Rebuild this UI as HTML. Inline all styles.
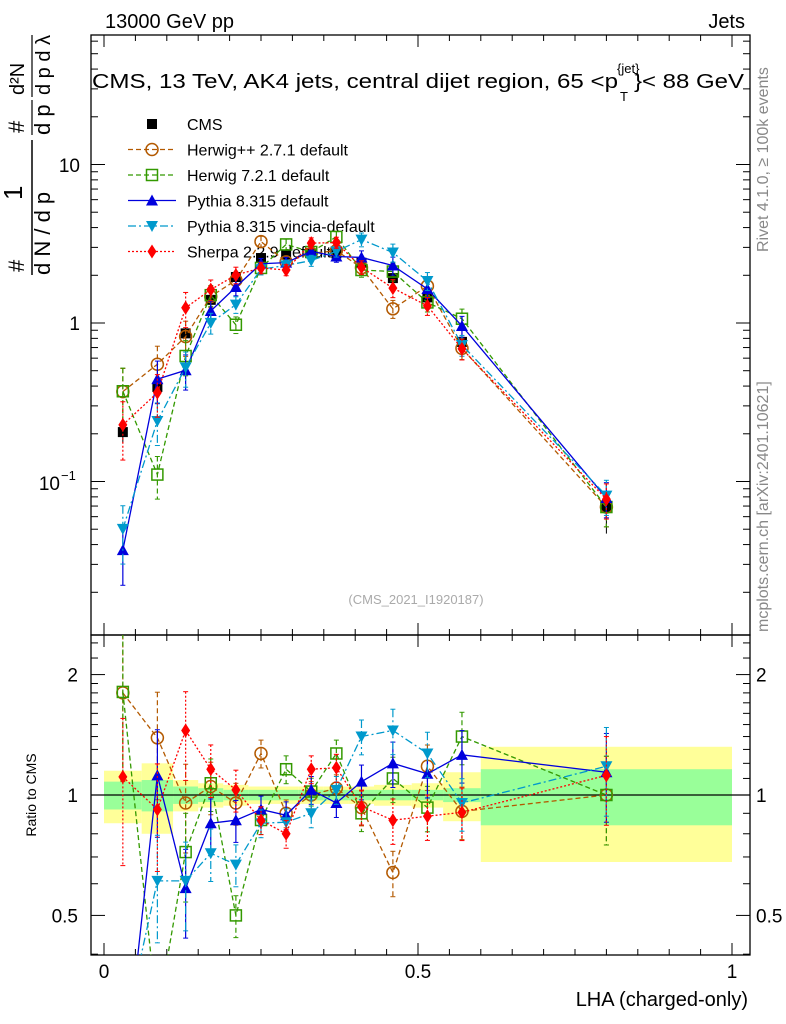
<!DOCTYPE html>
<html><head><meta charset="utf-8">
<style>
html,body{margin:0;padding:0;background:#fff;overflow:hidden;width:786px;height:1024px;}
svg{display:block;font-family:"Liberation Sans",sans-serif;}
</style></head>
<body>
<svg id="chart" width="786" height="1024" viewBox="0 0 786 1024" xmlns="http://www.w3.org/2000/svg">
<text x="105" y="28" font-size="20">13000 GeV pp</text>
<text x="745" y="28" font-size="20" text-anchor="end">Jets</text>
<text x="92" y="88" font-size="20" textLength="526" lengthAdjust="spacingAndGlyphs">CMS, 13 TeV, AK4 jets, central dijet region, 65 &lt;p</text>
<text x="617" y="73" font-size="13">{jet}</text>
<text x="620" y="101" font-size="13">T</text>
<text x="634" y="88" font-size="20" textLength="110" lengthAdjust="spacingAndGlyphs">}&lt; 88 GeV</text>
<g font-size="22">
<text transform="translate(24,272) rotate(-90)">#</text>
<text transform="translate(22,200) rotate(-90)" font-size="26">1</text>
<line x1="32" y1="275" x2="32" y2="140" stroke="#000" stroke-width="1.5"/>
<text transform="translate(50,275) rotate(-90)">d N / d p</text>
<text transform="translate(24,133) rotate(-90)">#</text>
<line x1="32" y1="135" x2="32" y2="100" stroke="#000" stroke-width="1.2"/>
<text transform="translate(50,135) rotate(-90)">d p</text>
<text transform="translate(24,95) rotate(-90)" font-size="20">d²N</text>
<line x1="32" y1="97" x2="32" y2="35" stroke="#000" stroke-width="1.2"/>
<text transform="translate(50,95) rotate(-90)" font-size="20">d p  d λ</text>
</g>
<text transform="translate(768,252) rotate(-90)" font-size="16" fill="#888">Rivet 4.1.0, ≥ 100k events</text>
<text transform="translate(768,632) rotate(-90)" font-size="16" fill="#888">mcplots.cern.ch [arXiv:2401.10621]</text>
<text x="416" y="604" font-size="13" fill="#aaa" text-anchor="middle">(CMS_2021_I1920187)</text>
<text x="36" y="795" font-size="14" text-anchor="middle" transform="rotate(-90,36,795)">Ratio to CMS</text>
<text x="748" y="1006" font-size="20" text-anchor="end">LHA (charged-only)</text>
<g id="bands"></g>
<g id="axes"></g>
<g id="legend"></g>
<defs>
<clipPath id="cm"><rect x="91" y="35" width="659" height="600"/></clipPath>
<clipPath id="cr"><rect x="91" y="635" width="659" height="320"/></clipPath>
</defs>
</svg>
<script>
const edges=[0,0.06,0.11,0.15,0.19,0.23,0.27,0.31,0.35,0.39,0.43,0.49,0.54,0.60,1.0];
const centers=[0.03,0.085,0.13,0.17,0.21,0.25,0.29,0.33,0.37,0.41,0.46,0.515,0.57,0.8];
const cmsVals=[0.205,0.395,0.86,1.4,1.95,2.57,2.7,2.75,2.75,2.4,1.92,1.45,0.76,0.069];
const statErr=[0.08,0.09,0.05,0.04,0.03,0.03,0.03,0.03,0.03,0.03,0.03,0.03,0.04,0.16];
const totErr=[0.15,0.2,0.09,0.07,0.06,0.05,0.05,0.05,0.05,0.05,0.06,0.07,0.14,0.32];
const herwigppRatio=[1.8,1.39,0.955,1.05,0.955,1.27,0.9,1.0,1.04,0.93,0.64,1.18,0.91,1.0];
const herwig7Ratio=[1.81,0.28,0.72,1.07,0.5,0.866,1.16,1.02,1.27,0.9,1.1,0.93,1.4,1.0];
const pythiaRatio=[0.18,1.12,0.585,0.85,0.865,0.92,0.89,1.03,0.955,1.08,1.2,1.13,1.26,1.14];
const vinciaRatio=[0.245,0.61,0.61,0.715,0.67,0.85,0.855,0.9,1.03,1.4,1.45,1.27,0.955,1.18];
const sherpaRatio=[1.11,0.92,1.45,1.16,1.03,0.865,0.8,1.16,1.17,0.935,0.865,0.885,0.905,1.12];
const mcErr=[0.4,0.3,0.25,0.15,0.12,0.08,0.08,0.08,0.08,0.1,0.13,0.13,0.15,0.25];

const NS='http://www.w3.org/2000/svg';
const X0=91,X1=750,YT=35,YM=635,YB=955;
const xs=v=>104+628*v;
const ym=v=>323-158.5*Math.log10(v);
const yr=r=>795-400*Math.log10(r);
function mk(tag,attrs,parent){const e=document.createElementNS(NS,tag);for(const k in attrs)e.setAttribute(k,attrs[k]);parent.appendChild(e);return e;}
const svg=document.getElementById('chart');
const bands=document.getElementById('bands');
const axes=document.getElementById('axes');
const legend=document.getElementById('legend');

for(let i=0;i<centers.length;i++){
  const x=xs(edges[i]),w=xs(edges[i+1])-x;
  const yb=mk('rect',{x:x,y:yr(1+totErr[i]),width:w,height:yr(1-totErr[i])-yr(1+totErr[i]),fill:'#ffff99'},bands);
  
  
  const gb=mk('rect',{x:x,y:yr(1+statErr[i]),width:w,height:yr(1-statErr[i])-yr(1+statErr[i]),fill:'#99ff99'},bands);
  
  
}
const one=mk('line',{x1:X0,x2:X1,y1:yr(1),y2:yr(1),stroke:'#000','stroke-width':1.2},bands);



function marker(g,type,x,y,color){
  if(type==='sq')mk('rect',{x:x-5,y:y-5,width:10,height:10,fill:'#000'},g);
  else if(type==='osq')mk('rect',{x:x-5.5,y:y-5.5,width:11,height:11,fill:'none',stroke:color,'stroke-width':1.5},g);
  else if(type==='oc')mk('circle',{cx:x,cy:y,r:6,fill:'none',stroke:color,'stroke-width':1.5},g);
  else if(type==='tu')mk('path',{d:`M${x} ${y-6}L${x+6} ${y+5}L${x-6} ${y+5}Z`,fill:color},g);
  else if(type==='td')mk('path',{d:`M${x} ${y+6}L${x+6} ${y-5}L${x-6} ${y-5}Z`,fill:color},g);
  else if(type==='di')mk('path',{d:`M${x} ${y-7}L${x+4.5} ${y}L${x} ${y+7}L${x-4.5} ${y}Z`,fill:color},g);
}
const series=[
 {name:'herwigpp',ratio:herwigppRatio,color:'#b35900',dash:'5,3',m:'oc',label:'Herwig++ 2.7.1 default'},
 {name:'herwig7',ratio:herwig7Ratio,color:'#339900',dash:'5,3',m:'osq',label:'Herwig 7.2.1 default'},
 {name:'pythia',ratio:pythiaRatio,color:'#0000dd',dash:'',m:'tu',label:'Pythia 8.315 default'},
 {name:'vincia',ratio:vinciaRatio,color:'#0099cc',dash:'8,3,2,3',m:'td',label:'Pythia 8.315 vincia-default'},
 {name:'sherpa',ratio:sherpaRatio,color:'#ff0000',dash:'2,2',m:'di',label:'Sherpa 2.2.9 default'}
];
const gm=mk('g',{'clip-path':'url(#cm)'},svg);
const gr=mk('g',{'clip-path':'url(#cr)'},svg);
const cg=mk('g',{},gm);


for(let i=0;i<centers.length;i++){
  const x=xs(centers[i]);
  mk('line',{x1:x,x2:x,y1:ym(cmsVals[i]*(1+totErr[i])),y2:ym(cmsVals[i]*(1-totErr[i])),stroke:'#000'},cg);
}
series.forEach(s=>{
  for(const [g,f] of [[gm,(i)=>ym(cmsVals[i]*s.ratio[i])],[gr,(i)=>yr(s.ratio[i])]]){
    const sg=mk('g',{},g);
    
    
    const pts=centers.map((c,i)=>xs(c)+','+f(i)).join(' ');
    mk('polyline',{points:pts,fill:'none',stroke:s.color,'stroke-width':1.3,'stroke-dasharray':s.dash},sg);
    centers.forEach((c,i)=>{
      const x=xs(c),v=s.ratio[i];
      const base=g===gm?cmsVals[i]*v:v;
      const conv=g===gm?ym:yr;
      const up=conv(base*(1+mcErr[i])),dn=conv(base*Math.max(0.05,1-mcErr[i]));
      mk('line',{x1:x,x2:x,y1:up,y2:dn,stroke:s.color,'stroke-width':1.2,'stroke-dasharray':s.dash},sg);
      mk('line',{x1:x-2.5,x2:x+2.5,y1:up,y2:up,stroke:s.color},sg);
      mk('line',{x1:x-2.5,x2:x+2.5,y1:dn,y2:dn,stroke:s.color},sg);
      marker(sg,s.m,x,f(i),s.color);
    });
  }
});
for(let i=0;i<centers.length;i++)marker(cg,'sq',xs(centers[i]),ym(cmsVals[i]));

for(const [y1,y2] of [[YT,YM],[YM,YB]])
  mk('rect',{x:X0,y:y1,width:X1-X0,height:y2-y1,fill:'none',stroke:'#000','stroke-width':1.3},axes);
for(let k=0;k<=20;k++){
  const v=k*0.05,x=xs(v),L=(k%10===0)?12:6;
  for(const y of [YT,YM,YB]){
    if(y!==YT)mk('line',{x1:x,x2:x,y1:y,y2:y-L,stroke:'#000'},axes);
    if(y!==YB)mk('line',{x1:x,x2:x,y1:y,y2:y+L,stroke:'#000'},axes);
  }
}
const xLabels=['0','0.5','1'];
[0,0.5,1].forEach((v,i)=>{const t=mk('text',{x:xs(v),y:978,'font-size':19,'text-anchor':'middle'},axes);t.textContent=xLabels[i];
});
for(let d=-2;d<=1;d++)for(let m=1;m<=9;m++){
  const v=m*Math.pow(10,d),y=ym(v);if(y<YT||y>YM)continue;
  const L=m===1?14:7;
  mk('line',{x1:X0,x2:X0+L,y1:y,y2:y,stroke:'#000'},axes);
  mk('line',{x1:X1,x2:X1-L,y1:y,y2:y,stroke:'#000'},axes);
}
const t10=mk('text',{x:80,y:172,'font-size':19,'text-anchor':'end'},axes);t10.textContent='10';

const t1=mk('text',{x:80,y:330,'font-size':19,'text-anchor':'end'},axes);t1.textContent='1';

const tm=mk('text',{x:60,y:490,'font-size':19,'text-anchor':'end'},axes);tm.textContent='10';

const ts=mk('text',{x:61,y:480,'font-size':13},axes);ts.textContent='−1';
const rt=[0.4,0.5,0.6,0.7,0.8,0.9,1,2,1.1,1.2,1.3,1.4,1.5,1.6,1.7,1.8,1.9,2.2,2.4];
rt.forEach(v=>{const y=yr(v);if(y<YM||y>YB)return;const L=(v===0.5||v===1||v===2)?14:7;
 mk('line',{x1:X0,x2:X0+L,y1:y,y2:y,stroke:'#000'},axes);mk('line',{x1:X1,x2:X1-L,y1:y,y2:y,stroke:'#000'},axes);});
const rLabels=['2','1','0.5'];
[2,1,0.5].forEach((v,i)=>{
  const a=mk('text',{x:78,y:yr(v)+7,'font-size':19,'text-anchor':'end'},axes);a.textContent=rLabels[i];
  
  const b=mk('text',{x:756,y:yr(v)+7,'font-size':19},axes);b.textContent=rLabels[i];
  
});
const lg=[{label:'CMS',m:'sq',color:'#000',dash:null}].concat(series);
lg.forEach((s,i)=>{
  const y=124+i*25.5;
  const g=mk('g',{},legend);
  
  
  if(s.dash!==null)mk('line',{x1:128,x2:176,y1:y,y2:y,stroke:s.color,'stroke-width':1.3,'stroke-dasharray':s.dash},g);
  marker(g,s.m,152,y,s.color);
  const t=mk('text',{x:187,y:y+6,'font-size':16},g);t.textContent=s.label;
});
</script>
</body></html>
